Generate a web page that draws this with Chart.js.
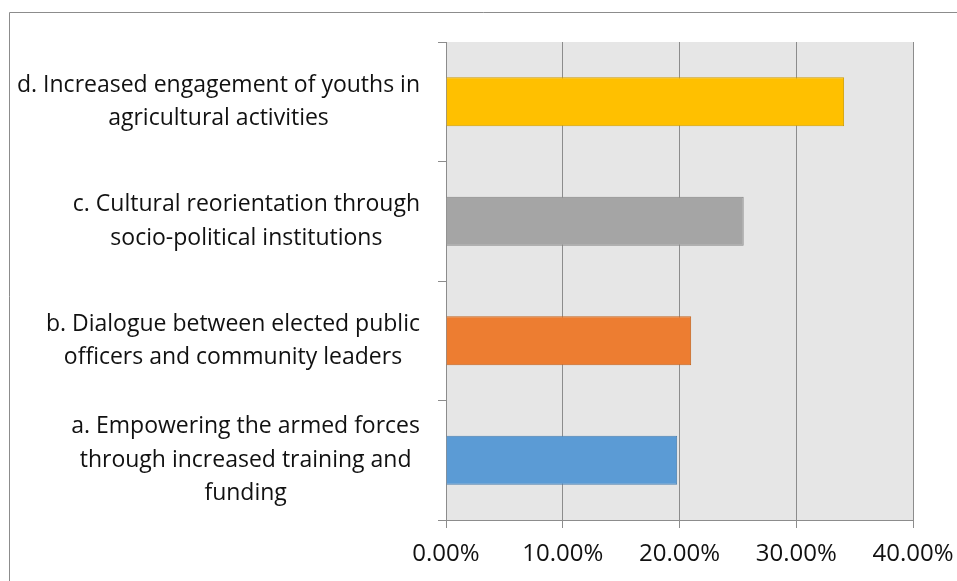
<!DOCTYPE html>
<html>
<head>
<meta charset="utf-8">
<script src="https://cdn.jsdelivr.net/npm/chart.js@4.4.1/dist/chart.umd.min.js"></script>
<style>
    html, body { margin: 0; padding: 0; background: #fff; }
    #wrap { width: 957px; height: 581px; }
</style>
</head>
<body>
<div id="wrap"><canvas id="chart" width="957" height="581"></canvas></div>
<script>
// strategies, bottom to top
const categories = [
    ['a. Empowering the armed forces', 'through increased training and', 'funding'],
    ['b. Dialogue between elected public', 'officers and community leaders'],
    ['c. Cultural reorientation through', 'socio-political institutions'],
    ['d. Increased engagement of youths in', 'agricultural activities']
];
const shares = [19.8, 21.0, 25.5, 34.1];
const xTicks = [0, 10, 20, 30, 40];

const barColors = ['#5b9bd5', '#ed7d31', '#a5a5a5', '#ffc000'];
const barEdges = ['#4a7fb0', '#c4651f', '#878787', '#d19e00'];

const fontFamily = '"Open Sans", Lato, sans-serif';
const labelFont = '23px ' + fontFamily;

// white page, thin frame and grey plot area
const backdrop = {
    id: 'backdrop',
    beforeDraw(chart) {
        const ctx = chart.ctx;
        const a = chart.chartArea;
        ctx.save();
        ctx.fillStyle = '#fff';
        ctx.fillRect(0, 0, chart.width, chart.height);
        ctx.strokeStyle = '#8c8c8c';
        ctx.lineWidth = 1;
        ctx.beginPath();
        ctx.moveTo(9.5, chart.height);
        ctx.lineTo(9.5, 12.5);
        ctx.lineTo(chart.width, 12.5);
        ctx.stroke();
        ctx.fillStyle = '#e6e6e6';
        ctx.fillRect(a.left, a.top, a.right - a.left, a.bottom - a.top);
        ctx.restore();
    }
};

// wrapped category labels: block sits against the axis, lines centred in it
const wrappedLabels = {
    id: 'wrappedLabels',
    afterDraw(chart) {
        const ctx = chart.ctx;
        const yScale = chart.scales.y;
        const right = 420;
        const lineGap = 33.5;
        ctx.save();
        ctx.font = labelFont;
        ctx.fillStyle = '#111';
        ctx.textAlign = 'center';
        ctx.textBaseline = 'middle';
        categories.forEach(function(lines, i) {
            const widths = lines.map(l => ctx.measureText(l).width);
            const cx = right - Math.max(...widths) / 2;
            const cy = yScale.getPixelForValue(i);
            const top = cy - (lines.length - 1) * lineGap / 2;
            lines.forEach(function(line, j) {
                ctx.fillText(line, cx, top + j * lineGap);
            });
        });
        ctx.restore();
    }
};

new Chart(document.getElementById('chart'), {
    type: 'bar',
    data: {
        labels: categories,
        datasets: [{
            data: shares,
            backgroundColor: barColors,
            borderColor: barEdges,
            borderWidth: 1,
            barPercentage: 0.41,
            categoryPercentage: 1
        }]
    },
    options: {
        indexAxis: 'y',
        responsive: false,
        animation: false,
        layout: { padding: { left: 0, top: 42, right: 44, bottom: 0 } },
        plugins: {
            legend: { display: false },
            tooltip: { enabled: false }
        },
        scales: {
            x: {
                min: 0,
                max: 40,
                afterFit: function(scale) {
                    scale.height = 61;
                    scale.paddingLeft = 0;
                    scale.paddingRight = 0;
                },
                afterBuildTicks: function(scale) {
                    scale.ticks = xTicks.map(v => ({ value: v }));
                },
                border: { color: '#8c8c8c', width: 1 },
                grid: {
                    color: '#8c8c8c',
                    lineWidth: 1,
                    drawTicks: true,
                    tickLength: 8,
                    tickColor: '#8c8c8c'
                },
                ticks: {
                    padding: 12,
                    color: '#111',
                    font: { family: fontFamily, size: 24 },
                    callback: v => v.toFixed(2) + '%'
                }
            },
            y: {
                reverse: true,
                afterFit: function(scale) { scale.width = 446; },
                border: { color: '#8c8c8c', width: 1 },
                grid: {
                    offset: true,
                    drawOnChartArea: false,
                    drawTicks: true,
                    tickLength: 8,
                    color: '#8c8c8c'
                },
                ticks: { display: false }
            }
        }
    },
    plugins: [backdrop, wrappedLabels]
});
</script>
</body>
</html>
